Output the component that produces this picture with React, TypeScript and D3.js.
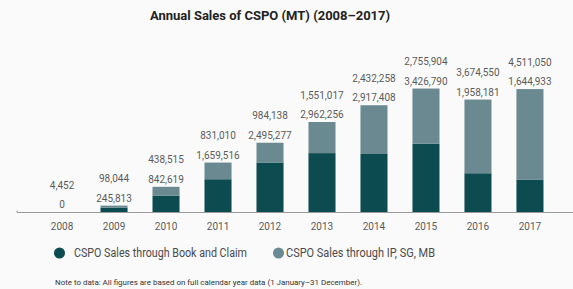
import React from 'react';
import * as d3 from 'd3';

const years = ['2008', '2009', '2010', '2011', '2012', '2013', '2014', '2015', '2016', '2017'];
const bookAndClaim = [0, 245813, 842619, 1659516, 2495277, 2962256, 2917408, 3426790, 1958181, 1644933];
const ipSgMb = [4452, 98044, 438515, 831010, 984138, 1551017, 2432258, 2755904, 3674550, 4511050];
const seriesNames = ['CSPO Sales through Book and Claim', 'CSPO Sales through IP, SG, MB'];
const colors = ['#0c4b4f', '#6a8990'];

const W = 573;
const H = 289;
const font = "Roboto, 'DejaVu Sans', sans-serif";
const fmt = d3.format(',');

export default function App() {
  const x = d3.scaleBand().domain(years).range([35, 557]).paddingInner(0.48).paddingOuter(0.26);
  const y = d3.scaleLinear().domain([0, 6000000]).range([212.5, 92.2]);

  const rows = years.map((yr, i) => ({ yr, a: bookAndClaim[i], b: ipSgMb[i] }));

  // legend spots: circle centre, text start, text length
  const legend = [
    { cx: 59.5, tx: 74, len: 173 },
    { cx: 278.5, tx: 286, len: 149 },
  ];

  return (
    <svg width={W} height={H} style={{ position: 'absolute', left: 0, top: 0 }} fontFamily={font}>
      <rect x={0} y={0} width={W} height={H} fill="#fafafa" />
      <text x={270} y={20} textAnchor="middle" fontSize={13} fontWeight="bold" fill="#222">
        Annual Sales of CSPO (MT) (2008–2017)
      </text>

      {rows.map((d) => {
        const bx = x(d.yr)!;
        const cx = bx + x.bandwidth() / 2;
        const top = y(d.a + d.b);
        return (
          <g key={d.yr}>
            <rect x={bx} y={y(d.a)} width={x.bandwidth()} height={y(0) - y(d.a)} fill={colors[0]} />
            <rect x={bx} y={top} width={x.bandwidth()} height={y(d.a) - top} fill={colors[1]} />
            <text x={cx} y={top - 4} textAnchor="middle" fontSize={10} fill="#5a5a5a">
              {fmt(d.a)}
            </text>
            <text x={cx} y={top - 23.5} textAnchor="middle" fontSize={10} fill="#5a5a5a">
              {fmt(d.b)}
            </text>
            <text x={cx} y={230} textAnchor="middle" fontSize={10} fill="#5a5a5a">
              {d.yr}
            </text>
          </g>
        );
      })}

      <line x1={17} x2={W} y1={y(0)} y2={y(0)} stroke="#9a9a9a" strokeWidth={1.2} />
      <line x1={17} x2={17} y1={y(0) - 2} y2={y(0)} stroke="#9a9a9a" strokeWidth={1} />

      {seriesNames.map((name, i) => (
        <g key={name}>
          <circle cx={legend[i].cx} cy={253} r={5.5} fill={colors[i]} />
          <text x={legend[i].tx} y={257} fontSize={12} fill="#4a4a4a" textLength={legend[i].len} lengthAdjust="spacingAndGlyphs">
            {name}
          </text>
        </g>
      ))}

      <text x={55} y={285} fontSize={7.5} fill="#333" textLength={307} lengthAdjust="spacingAndGlyphs">
        Note to data: All figures are based on full calendar year data (1 January–31 December).
      </text>
    </svg>
  );
}
